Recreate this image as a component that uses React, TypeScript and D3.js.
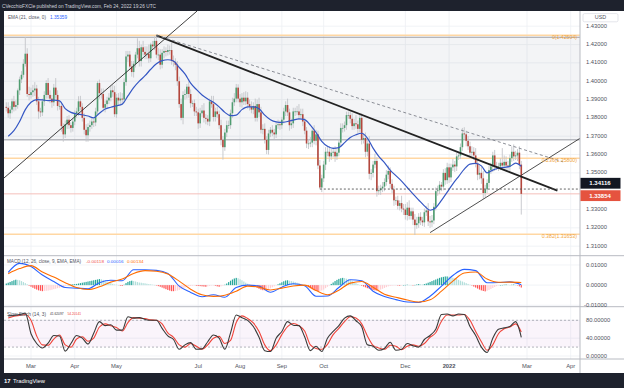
import * as d3 from 'd3';

// GBP/USD daily, 2021-02-10 .. 2022-02-24 (one value per weekday session)
const firstSession = '2021-02-10';
const firstOpen = 1.386;
const closes = [
  1.3855, 1.3825, 1.3845,
  1.3890, 1.3860, 1.3870, 1.3950, 1.4010,
  1.4035, 1.4095, 1.4150, 1.3930, 1.3925,
  1.3940, 1.3950, 1.3960, 1.3890, 1.3835,
  1.3830, 1.3890, 1.3925, 1.3990, 1.3925,
  1.3905, 1.3885, 1.3965, 1.3925, 1.3865,
  1.3865, 1.3755, 1.3710, 1.3765, 1.3790,
  1.3760, 1.3745, 1.3780, 1.3825, 1.3835,
  1.3890, 1.3860, 1.3800, 1.3735, 1.3705,
  1.3750, 1.3760, 1.3780, 1.3775, 1.3835,
  1.3990, 1.3935, 1.3930, 1.3855, 1.3875,
  1.3895, 1.3910, 1.3950, 1.3940, 1.3820,
  1.3910, 1.3895, 1.3905, 1.3900, 1.3995,
  1.4135, 1.4145, 1.4080, 1.4050, 1.4095,
  1.4145, 1.4180, 1.4110, 1.4185, 1.4160,
  1.4145, 1.4150, 1.4125, 1.4200, 1.4190,
  1.4220, 1.4145, 1.4145, 1.4090, 1.4155,
  1.4165, 1.4160, 1.4170, 1.4170, 1.4110,
  1.4105, 1.4090, 1.4000, 1.3875, 1.3800,
  1.3925, 1.3930, 1.3970, 1.3930, 1.3880,
  1.3880, 1.3835, 1.3830, 1.3770, 1.3825,
  1.3840, 1.3800, 1.3795, 1.3780, 1.3890,
  1.3875, 1.3805, 1.3835, 1.3820, 1.3760,
  1.3680, 1.3640, 1.3720, 1.3760, 1.3760,
  1.3825, 1.3885, 1.3905, 1.3965, 1.3905,
  1.3885, 1.3910, 1.3890, 1.3910, 1.3875,
  1.3860, 1.3845, 1.3865, 1.3800, 1.3875,
  1.3830, 1.3735, 1.3740, 1.3680, 1.3625,
  1.3715, 1.3735, 1.3720, 1.3710, 1.3760,
  1.3765, 1.3760, 1.3790, 1.3835, 1.3870,
  1.3830, 1.3760, 1.3770, 1.3835, 1.3835,
  1.3835, 1.3815, 1.3820, 1.3780, 1.3730,
  1.3660, 1.3660, 1.3665, 1.3730, 1.3675,
  1.3710, 1.3540, 1.3420, 1.3470, 1.3545,
  1.3615, 1.3615, 1.3590, 1.3610, 1.3615,
  1.3590, 1.3610, 1.3665, 1.3745, 1.3745,
  1.3760, 1.3815, 1.3815, 1.3795, 1.3755,
  1.3770, 1.3765, 1.3740, 1.3800, 1.3680,
  1.3690, 1.3615, 1.3660, 1.3495, 1.3500,
  1.3545, 1.3565, 1.3400, 1.3405, 1.3415,
  1.3425, 1.3450, 1.3490, 1.3510, 1.3440,
  1.3410, 1.3350, 1.3350, 1.3320, 1.3335,
  1.3305, 1.3300, 1.3270, 1.3310, 1.3265,
  1.3290, 1.3245, 1.3215, 1.3225, 1.3260,
  1.3240, 1.3230, 1.3285, 1.3295, 1.3235,
  1.3230, 1.3240, 1.3315, 1.3400, 1.3405,
  1.3435, 1.3425, 1.3500, 1.3460, 1.3530,
  1.3475, 1.3530, 1.3545, 1.3535, 1.3590,
  1.3595, 1.3640, 1.3715, 1.3710, 1.3675,
  1.3645, 1.3610, 1.3615, 1.3595, 1.3550,
  1.3490, 1.3500, 1.3470, 1.3390, 1.3410,
  1.3445, 1.3515, 1.3535, 1.3595, 1.3535,
  1.3535, 1.3535, 1.3555, 1.3540, 1.3560,
  1.3540, 1.3535, 1.3580, 1.3615, 1.3590,
  1.3595, 1.3610, 1.3545, 1.33854,
];

// wick lengths in pips above / below the candle body
const upWickPips = [
  25, 30, 20, 15, 30, 25, 10, 15, 20, 25,
  91, 30, 40, 25, 30, 35, 20, 25, 20, 15,
  20, 15, 27, 25, 20, 20, 52, 25, 30, 20,
  15, 20, 20, 25, 15, 20, 15, 20, 28, 30,
  20, 25, 30, 20, 25, 20, 15, 20, 10, 19,
  25, 30, 20, 20, 25, 25, 30, 35, 20, 25,
  35, 30, 20, 30, 20, 20, 30, 15, 15, 54,
  40, 15, 35, 30, 40, 50, 10, 20, 25, 30,
  35, 30, 20, 25, 20, 30, 25, 40, 30, 20,
  20, 25, 30, 20, 25, 15, 40, 25, 15, 20,
  25, 20, 30, 30, 40, 20, 20, 15, 30, 45,
  20, 25, 20, 30, 20, 20, 25, 25, 20, 25,
  30, 20, 18, 25, 25, 30, 35, 30, 25, 30,
  20, 40, 25, 35, 30, 25, 30, 20, 20, 15,
  25, 20, 20, 25, 20, 15, 20, 20, 35, 20,
  25, 20, 20, 30, 40, 30, 30, 20, 20, 25,
  30, 20, 30, 25, 20, 30, 20, 20, 25, 30,
  30, 20, 25, 30, 20, 20, 25, 25, 20, 19,
  19, 20, 30, 25, 45, 20, 25, 25, 25, 30,
  30, 40, 20, 20, 40, 20, 25, 20, 25, 20,
  25, 30, 20, 25, 20, 20, 25, 15, 40, 25,
  30, 30, 40, 20, 20, 30, 35, 20, 25, 20,
  20, 25, 40, 30, 30, 20, 20, 25, 20, 15,
  20, 25, 25, 20, 20, 30, 20, 20, 20, 20,
  30, 34, 20, 25, 25, 30, 25, 40, 25, 40,
  35, 40, 25, 20, 25, 20, 20, 30, 25, 20,
  25, 80, 35, 30, 25, 20, 29, 40, 25, 20,
  35, 20,
];
const downWickPips = [
  20, 25, 30, 20, 25, 20, 20, 25, 20, 15,
  15, 15, 30, 20, 25, 30, 20, 40, 25, 20,
  25, 20, 20, 25, 30, 20, 20, 25, 20, 30,
  40, 20, 25, 20, 25, 20, 20, 25, 25, 20,
  20, 25, 35, 35, 25, 20, 25, 20, 20, 30,
  25, 20, 25, 20, 20, 20, 25, 15, 20, 30,
  25, 20, 20, 20, 30, 20, 25, 30, 20, 20,
  30, 30, 20, 25, 25, 25, 20, 20, 20, 20,
  30, 25, 20, 30, 25, 20, 25, 20, 25, 30,
  25, 20, 13, 35, 25, 25, 20, 25, 20, 25,
  20, 30, 25, 20, 25, 30, 20, 25, 20, 25,
  25, 20, 20, 30, 68, 20, 25, 20, 20, 25,
  20, 20, 20, 25, 30, 20, 20, 25, 20, 20,
  25, 20, 20, 25, 20, 25, 20, 23, 25, 20,
  20, 25, 20, 20, 25, 20, 20, 25, 20, 30,
  20, 25, 25, 20, 25, 20, 25, 20, 25, 30,
  20, 25, 20, 25, 20, 8, 25, 20, 30, 25,
  30, 20, 25, 30, 20, 20, 20, 25, 20, 25,
  20, 25, 20, 20, 25, 25, 20, 25, 20, 30,
  25, 30, 35, 25, 20, 30, 20, 25, 20, 25,
  20, 25, 25, 20, 30, 25, 20, 25, 20, 30,
  25, 30, 20, 20, 30, 54, 20, 25, 25, 20,
  25, 20, 25, 30, 25, 20, 20, 25, 20, 25,
  20, 25, 20, 30, 25, 20, 30, 25, 20, 20,
  20, 25, 30, 20, 25, 20, 25, 20, 30, 25,
  30, 32, 25, 20, 25, 20, 30, 25, 20, 25,
  20, 25, 30, 25, 20, 25, 20, 25, 20, 30,
  25, 113,
];

// EMA(21) read every 3rd session, starting at session 1
const ema21 = [
  1.3700, 1.3730, 1.3780, 1.3845, 1.3885, 1.3900, 1.3898, 1.3894, 1.3897, 1.3893,
  1.3850, 1.3830, 1.3822, 1.3817, 1.3810, 1.3800, 1.3825, 1.3848, 1.3858, 1.3866,
  1.3875, 1.3920, 1.3965, 1.4000, 1.4030, 1.4065, 1.4095, 1.4112, 1.4117, 1.4110,
  1.4075, 1.4040, 1.3990, 1.3955, 1.3925, 1.3903, 1.3885, 1.3860, 1.3830, 1.3812,
  1.3815, 1.3845, 1.3860, 1.3860, 1.3850, 1.3815, 1.3790, 1.3778, 1.3775, 1.3780,
  1.3788, 1.3795, 1.3790, 1.3760, 1.3720, 1.3672, 1.3645, 1.3634, 1.3638, 1.3665,
  1.3693, 1.3708, 1.3716, 1.3690, 1.3635, 1.3590, 1.3556, 1.3515, 1.3485, 1.3455,
  1.3420, 1.3385, 1.3352, 1.3320, 1.3296, 1.3310, 1.3350, 1.3395, 1.3440, 1.3480,
  1.3520, 1.3548, 1.3552, 1.3538, 1.3500, 1.3515, 1.3525, 1.3530, 1.3535, 1.3553,
  1.3536,
];

// MACD (12, 26, 9) lines read every 6th session, starting at session 1
const macdLine = [
  0.0063, 0.0108, 0.0092, 0.0050, 0.0018, -0.0012, -0.0015, -0.0018, 0.0012, 0.0024,
  0.0022, 0.0076, 0.0076, 0.0073, 0.0058, -0.0005, -0.0036, -0.0058, -0.0048, -0.0060,
  -0.0012, 0.0000, -0.0005, -0.0035, -0.0010, 0.0007, -0.0003, -0.0055, -0.0054, -0.0012,
  0.0027, 0.0022, -0.0030, -0.0056, -0.0072, -0.0084, -0.0086, -0.0055, -0.0005, 0.0048,
  0.0078, 0.0072, 0.0012, 0.0013, 0.0016, 0.0002,
];
const signalLine = [
  0.0057, 0.0082, 0.0097, 0.0065, 0.0040, 0.0012, -0.0012, -0.0022, -0.0008, 0.0015,
  0.0030, 0.0058, 0.0072, 0.0069, 0.0055, 0.0020, -0.0020, -0.0048, -0.0056, -0.0050,
  -0.0030, -0.0005, -0.0010, -0.0024, -0.0015, -0.0004, 0.0000, -0.0027, -0.0048, -0.0025,
  0.0010, 0.0018, -0.0010, -0.0045, -0.0060, -0.0074, -0.0084, -0.0073, -0.0030, 0.0020,
  0.0060, 0.0065, 0.0030, 0.0014, 0.0015, 0.0013,
];
// MACD histogram per session, in units of 0.0001
const macdHist = [
  8, 12, 16, 20, 24, 27, 26, 24, 20, 15, 10, 4,
  -3, -8, -13, -18, -22, -26, -28, -30, -29, -28, -27, -25, -23, -20, -18, -15, -13, -10, -8, -5, -3,
  1, 3, 4, 5, 6, 8, 10, 12, 14, 16, 18, 20, 22, 24, 26,
  28, 30, 29, 26, 22, 18, 14, 10,
  6, 3, 2, 0, -3,
  -4, 2, 10, 16, 20, 22, 20, 18, 15, 13,
  12, 10, 9, 7, 5, 4, 2, 1,
  -2, -5, -8, -12, -16, -20, -24, -27, -30, -30, -29, -27, -24, -20, -16, -12, -8,
  -6, -4, -3, -2, -3, -4, -5, -6, -7, -8, -6, -4, -2, -1, -3, -6, -8, -6, -3, 2, 8, 15,
  22, 28, 33, 36, 34, 29, 24, 18, 12, 7, 3, 0,
  -4, -8, -13, -18, -22, -25, -25, -23, -20, -16, -11, -6, -1, 4,
  9, 14, 19, 23, 24, 22, 20, 18, 15, 12, 9, 6, 3, 0,
  -5, -10, -15, -20, -25, -28, -30, -29, -27, -22, -15, -8, -1, 6,
  13, 20, 26, 31, 34, 36, 35, 32, 29, 25, 20, 15, 10, 5, 1, -3, -7, -11,
  -15, -18, -21, -24, -26, -27, -25, -22, -18, -14, -10, -6,
  -4, -3, -2, -1, -2, -3, -2, 0, 1, 2, 1, 0, -1, 1, 3, 5, 4, 3, 5, 8,
  12, 16, 20, 24, 28, 32, 36, 39, 41, 43, 43, 42, 40, 37, 34, 30, 26, 22, 18, 14, 10, 6, 2, -2,
  -7, -12, -17, -22, -26, -29, -31, -28, -24,
  -19, -14, -9, -5, -2, 0, 1, 2, 3, 2, 1, 2, 3, 1, -2, -6, -12,
];

// Slow Stochastic (14, 3), read every 3rd session starting at session 1
const stochK = [
  90, 91, 93, 96, 50, 28, 18, 29, 46, 45,
  11, 28, 46, 40, 27, 51, 77, 68, 70, 58,
  58, 88, 85, 86, 82, 80, 80, 62, 45, 37,
  15, 25, 30, 15, 16, 32, 47, 40, 15, 52,
  92, 86, 80, 66, 42, 12, 10, 40, 55, 77,
  69, 68, 43, 12, 22, 10, 40, 55, 68, 85,
  90, 79, 66, 25, 22, 13, 17, 31, 13, 15,
  28, 23, 20, 37, 46, 60, 93, 94, 90, 94,
  93, 66, 46, 20, 8, 40, 60, 63, 66, 77,
  42,
];
const stochD = [
  85, 89, 91, 93, 80, 45, 25, 24, 38, 47,
  25, 20, 38, 43, 33, 40, 65, 72, 68, 64,
  56, 75, 86, 85, 84, 81, 80, 72, 52, 42,
  25, 20, 28, 22, 15, 25, 40, 44, 28, 35,
  75, 90, 84, 74, 55, 25, 12, 25, 48, 66,
  73, 68, 56, 25, 17, 15, 26, 48, 62, 77,
  88, 85, 72, 45, 24, 18, 15, 24, 22, 14,
  22, 25, 22, 28, 42, 52, 78, 92, 92, 92,
  93, 80, 55, 32, 13, 25, 50, 61, 65, 72,
  54,
];

const monthTickDates = ['2021-03-01', '2021-04-01', '2021-05-03', '2021-07-01', '2021-08-02', '2021-09-01', '2021-10-01', '2021-12-01', '2022-01-03', '2022-03-01', '2022-04-01'];
const monthTickLabels = ['Mar', 'Apr', 'May', 'Jul', 'Aug', 'Sep', 'Oct', 'Dec', '2022', 'Mar', 'Apr'];
const priceTicks = [1.43, 1.42, 1.41, 1.40, 1.39, 1.38, 1.37, 1.36, 1.35, 1.33, 1.32, 1.31];
const macdTicks = [0.01, 0, -0.01];
const stochTicks = [80, 40, 0];

const fibRatios = ['0', '0.236', '0.382'];
const fibPrices = [1.42504, 1.358, 1.31653];
const zoneTopPrice = 1.424;
const zoneBottomPrice = 1.368;
const rayPrice = 1.34116;
const rayStartSession = 165;

// trend lines as [session, price] anchors
const riseLine2021: [number, number][] = [[-1.2, 1.3472], [100.4, 1.4383]];
const fallLineMain: [number, number][] = [[79, 1.425], [290, 1.3403]];
const fallLineDashed: [number, number][] = [[79, 1.425], [293, 1.356]];
const riseLine2022: [number, number][] = [[223, 1.3174], [302, 1.3689]];

const emaLegend = '1.35359';
const macdLegend = ['-0.00118', '0.00016', '0.00134'];
const stochLegend = ['41.62097', '54.20141'];

// weekday calendar
const sessions: string[] = [];
{
  const d = new Date(firstSession + 'T00:00:00Z');
  while (sessions.length < 320) {
    const wd = d.getUTCDay();
    if (wd !== 0 && wd !== 6) sessions.push(d.toISOString().slice(0, 10));
    d.setUTCDate(d.getUTCDate() + 1);
  }
}

const W = 624;
const H = 388;
const paneLeft = 4;
const axisX = 580;
const mainTop = 11;
const mainBot = 255.7;
const macdBot = 306.7;
const stochBot = 359;
const timeBot = 373;
const FONT = "'Liberation Sans', Arial, sans-serif";

const x = d3.scaleLinear().domain([0, 297]).range([6.3, 570.7]);
const yMain = d3.scaleLinear().domain([1.3048, 1.4383]).range([mainBot, mainTop]);
const yMacd = d3.scaleLinear().domain([-0.0107, 0.0146]).range([macdBot, mainBot]);
const yStoch = d3.scaleLinear().domain([-6.7, 110.5]).range([stochBot, macdBot]);

const UP = '#4f9c70';
const DOWN = '#b4463c';

// small legend text squeezed into the width the reference gives it
const Legend = ({ x: lx, y: ly, w, fill, size = 4.8, children }:
  { x: number; y: number; w: number; fill: string; size?: number; children: string }) => (
  <text x={lx} y={ly} fontSize={size} fill={fill} dominantBaseline="middle" textLength={w} lengthAdjust="spacingAndGlyphs">
    {children}
  </text>
);

export default function App() {
  const tickX = monthTickDates.map(d => x(sessions.indexOf(d)));

  const emaPath = d3.line<number>()
    .x((_, k) => x(1 + 3 * k))
    .y(v => yMain(v))
    .curve(d3.curveMonotoneX)(ema21) || '';
  const macdPath = d3.line<number>()
    .x((_, k) => x(1 + 6 * k))
    .y(v => yMacd(v))
    .curve(d3.curveMonotoneX);
  const stochPath = d3.line<number>()
    .x((_, k) => x(1 + 3 * k))
    .y(v => yStoch(v))
    .curve(d3.curveMonotoneX);

  const seg = (p: [number, number][]) => ({
    x1: x(p[0][0]), y1: yMain(p[0][1]), x2: x(p[1][0]), y2: yMain(p[1][1]),
  });

  const lastClose = closes[closes.length - 1];
  // the two axis labels are nudged apart, as the reference does
  const rayLabelY = yMain(rayPrice) - 5.8;
  const lastLabelY = yMain(lastClose) + 1.8;

  return (
    <div style={{ position: 'fixed', left: 0, top: 0 }}>
      <svg width={W} height={H} style={{ display: 'block', fontFamily: FONT }}>
        <defs>
          <clipPath id="mainClip"><rect x={paneLeft} y={mainTop} width={axisX - paneLeft} height={mainBot - mainTop} /></clipPath>
          <clipPath id="macdClip"><rect x={paneLeft} y={mainBot} width={axisX - paneLeft} height={macdBot - mainBot} /></clipPath>
          <clipPath id="stochClip"><rect x={paneLeft} y={macdBot} width={axisX - paneLeft} height={stochBot - macdBot} /></clipPath>
        </defs>

        {/* frame */}
        <rect x={0} y={0} width={W} height={H} fill="#1e222d" />
        <rect x={paneLeft} y={mainTop} width={W - paneLeft} height={timeBot - mainTop} fill="#ffffff" />
        <text x={2} y={8.2} fontSize={5.2} fill="#d1d4dc" textLength={154} lengthAdjust="spacingAndGlyphs">
          CVecchioFXCle published on TradingView.com, Feb 24, 2022 19:26 UTC
        </text>

        {/* grid */}
        <g stroke="#eef0f4" strokeWidth={0.8}>
          {tickX.map((tx, i) => <line key={i} x1={tx} x2={tx} y1={mainTop} y2={stochBot} />)}
          {priceTicks.map((p, i) => <line key={'p' + i} x1={paneLeft} x2={axisX} y1={yMain(p)} y2={yMain(p)} />)}
          {macdTicks.map((p, i) => <line key={'m' + i} x1={paneLeft} x2={axisX} y1={yMacd(p)} y2={yMacd(p)} />)}
          {stochTicks.map((p, i) => <line key={'s' + i} x1={paneLeft} x2={axisX} y1={yStoch(p)} y2={yStoch(p)} />)}
        </g>

        {/* main pane */}
        <g clipPath="url(#mainClip)">
          <rect x={paneLeft} y={yMain(zoneTopPrice)} width={axisX - paneLeft}
            height={yMain(zoneBottomPrice) - yMain(zoneTopPrice)} fill="rgba(120,130,160,0.09)" />
          <line x1={paneLeft} x2={axisX} y1={yMain(zoneTopPrice)} y2={yMain(zoneTopPrice)} stroke="#8c8f98" strokeWidth={0.9} />
          <line x1={paneLeft} x2={axisX} y1={yMain(zoneBottomPrice)} y2={yMain(zoneBottomPrice)} stroke="#8c8f98" strokeWidth={0.9} />
          {fibPrices.map((p, i) => (
            <line key={i} x1={paneLeft} x2={axisX} y1={yMain(p)} y2={yMain(p)} stroke="#ffd7a3" strokeWidth={1.6} />
          ))}
          <line x1={paneLeft} x2={axisX} y1={yMain(lastClose)} y2={yMain(lastClose)} stroke="#f4b9b2" strokeWidth={0.9} />

          {closes.map((c, i) => {
            const o = i === 0 ? firstOpen : closes[i - 1];
            const hi = Math.max(o, c) + upWickPips[i] / 10000;
            const lo = Math.min(o, c) - downWickPips[i] / 10000;
            const cx = x(i);
            const top = yMain(Math.max(o, c));
            const bot = yMain(Math.min(o, c));
            return (
              <g key={i}>
                <line x1={cx} x2={cx} y1={yMain(hi)} y2={yMain(lo)} stroke="#c3c5ca" strokeWidth={0.9} />
                <rect x={cx - 0.8} y={top} width={1.6} height={Math.max(0.7, bot - top)} fill={c >= o ? UP : DOWN} />
              </g>
            );
          })}

          <path d={emaPath} fill="none" stroke="#3557c4" strokeWidth={1.2} />

          <line {...seg(riseLine2021)} stroke="#2a2a2a" strokeWidth={0.9} />
          <line {...seg(fallLineMain)} stroke="#222222" strokeWidth={1.8} />
          <line {...seg(fallLineDashed)} stroke="#7d8089" strokeWidth={0.9} strokeDasharray="3,2.5" />
          <line {...seg(riseLine2022)} stroke="#3a3a3a" strokeWidth={0.9} />
          <line x1={x(rayStartSession)} x2={axisX} y1={yMain(rayPrice)} y2={yMain(rayPrice)}
            stroke="#555" strokeWidth={0.9} strokeDasharray="2,2" />
        </g>
        {fibPrices.map((p, i) => (
          <text key={i} x={577} y={yMain(p) + 2.4} fontSize={5.2} fill="#f0a43c" textAnchor="end" dominantBaseline="middle">
            {`${fibRatios[i]}(${p.toFixed(5)})`}
          </text>
        ))}
        <Legend x={8} y={17.5} w={38} fill="#50535e">EMA (21, close, 0)</Legend>
        <Legend x={50} y={17.5} w={17} fill="#2962ff">{emaLegend}</Legend>

        {/* MACD pane */}
        <g clipPath="url(#macdClip)">
          {macdHist.map((h, i) => {
            const v = h / 10000;
            const prev = i > 0 ? macdHist[i - 1] : h;
            const fill = h >= 0 ? (h >= prev ? '#26a69a' : '#b2dfdb') : (h <= prev ? '#ff5252' : '#ffcdd2');
            const y0 = yMacd(0);
            const y1 = yMacd(v);
            return <rect key={i} x={x(i) - 0.6} y={Math.min(y0, y1)} width={1.2} height={Math.max(0.4, Math.abs(y1 - y0))} fill={fill} />;
          })}
          <path d={macdPath(macdLine) || ''} fill="none" stroke="#2962ff" strokeWidth={1.1} />
          <path d={macdPath(signalLine) || ''} fill="none" stroke="#ff6d00" strokeWidth={1.1} />
        </g>
        <Legend x={7} y={262} w={74} fill="#50535e">MACD (12, 26, close, 9, EMA, EMA)</Legend>
        <Legend x={86} y={262} w={18} size={4.4} fill="#ef5350">{macdLegend[0]}</Legend>
        <Legend x={107} y={262} w={16.5} size={4.4} fill="#2962ff">{macdLegend[1]}</Legend>
        <Legend x={127} y={262} w={16.5} size={4.4} fill="#ff6d00">{macdLegend[2]}</Legend>

        {/* Stochastic pane */}
        <g clipPath="url(#stochClip)">
          <rect x={paneLeft} y={yStoch(80)} width={axisX - paneLeft} height={yStoch(20) - yStoch(80)} fill="rgba(156,39,176,0.05)" />
          <line x1={paneLeft} x2={axisX} y1={yStoch(80)} y2={yStoch(80)} stroke="#9598a1" strokeWidth={0.7} strokeDasharray="2,2" />
          <line x1={paneLeft} x2={axisX} y1={yStoch(20)} y2={yStoch(20)} stroke="#9598a1" strokeWidth={0.7} strokeDasharray="2,2" />
          <path d={stochPath(stochD) || ''} fill="none" stroke="#f0443a" strokeWidth={1.1} />
          <path d={stochPath(stochK) || ''} fill="none" stroke="#3a3a3a" strokeWidth={1.1} />
        </g>
        <Legend x={7} y={314.3} w={39} fill="#50535e">Slow Stoch (14, 3)</Legend>
        <Legend x={50} y={314.3} w={13.5} size={3.9} fill="#3a3a3a">{stochLegend[0]}</Legend>
        <Legend x={67.5} y={314.3} w={13.5} size={3.9} fill="#f0443a">{stochLegend[1]}</Legend>

        {/* separators */}
        <g stroke="#b8bbc2" strokeWidth={1}>
          <line x1={paneLeft} x2={W} y1={mainBot} y2={mainBot} />
          <line x1={paneLeft} x2={W} y1={macdBot} y2={macdBot} />
          <line x1={paneLeft} x2={W} y1={stochBot} y2={stochBot} />
          <line x1={axisX} x2={axisX} y1={mainTop} y2={timeBot} />
        </g>

        {/* price axis */}
        <rect x={583} y={13.6} width={35} height={8.2} rx={1.5} fill="#fff" stroke="#d1d4dc" strokeWidth={0.6} />
        <text x={600.5} y={17.8} fontSize={5.4} fill="#50535e" textAnchor="middle" dominantBaseline="middle">USD</text>
        <g fontSize={5.8} fill="#50535e">
          {priceTicks.map((p, i) => (
            <text key={i} x={586} y={yMain(p)} dominantBaseline="middle">{p.toFixed(5)}</text>
          ))}
          {macdTicks.map((p, i) => (
            <text key={'m' + i} x={p < 0 ? 584 : 586} y={yMacd(p)} dominantBaseline="middle">{p.toFixed(5)}</text>
          ))}
          {stochTicks.map((p, i) => (
            <text key={'s' + i} x={586} y={yStoch(p)} dominantBaseline="middle">{p.toFixed(5)}</text>
          ))}
        </g>
        <rect x={580.5} y={rayLabelY - 5.4} width={40} height={10.8} fill="#131722" />
        <text x={600} y={rayLabelY + 0.3} fontSize={6} fill="#fff" textAnchor="middle" dominantBaseline="middle" fontWeight="bold">
          {rayPrice.toFixed(5)}
        </text>
        <rect x={580.5} y={lastLabelY - 5.4} width={40} height={10.8} fill="#e5533f" />
        <text x={600} y={lastLabelY + 0.3} fontSize={6} fill="#fff" textAnchor="middle" dominantBaseline="middle" fontWeight="bold">
          {lastClose.toFixed(5)}
        </text>

        {/* time axis */}
        {monthTickLabels.map((m, i) => (
          <text key={i} x={tickX[i]} y={366.5} fontSize={5.8} fill="#50535e" textAnchor="middle" dominantBaseline="middle"
            fontWeight={m === '2022' ? 'bold' : 'normal'}>{m}</text>
        ))}

        {/* footer */}
        <text x={4} y={381.5} fontSize={6} fill="#ffffff" fontWeight="bold" dominantBaseline="middle">17</text>
        <text x={13} y={381.5} fontSize={5.8} fill="#ffffff" dominantBaseline="middle">TradingView</text>
      </svg>
    </div>
  );
}
